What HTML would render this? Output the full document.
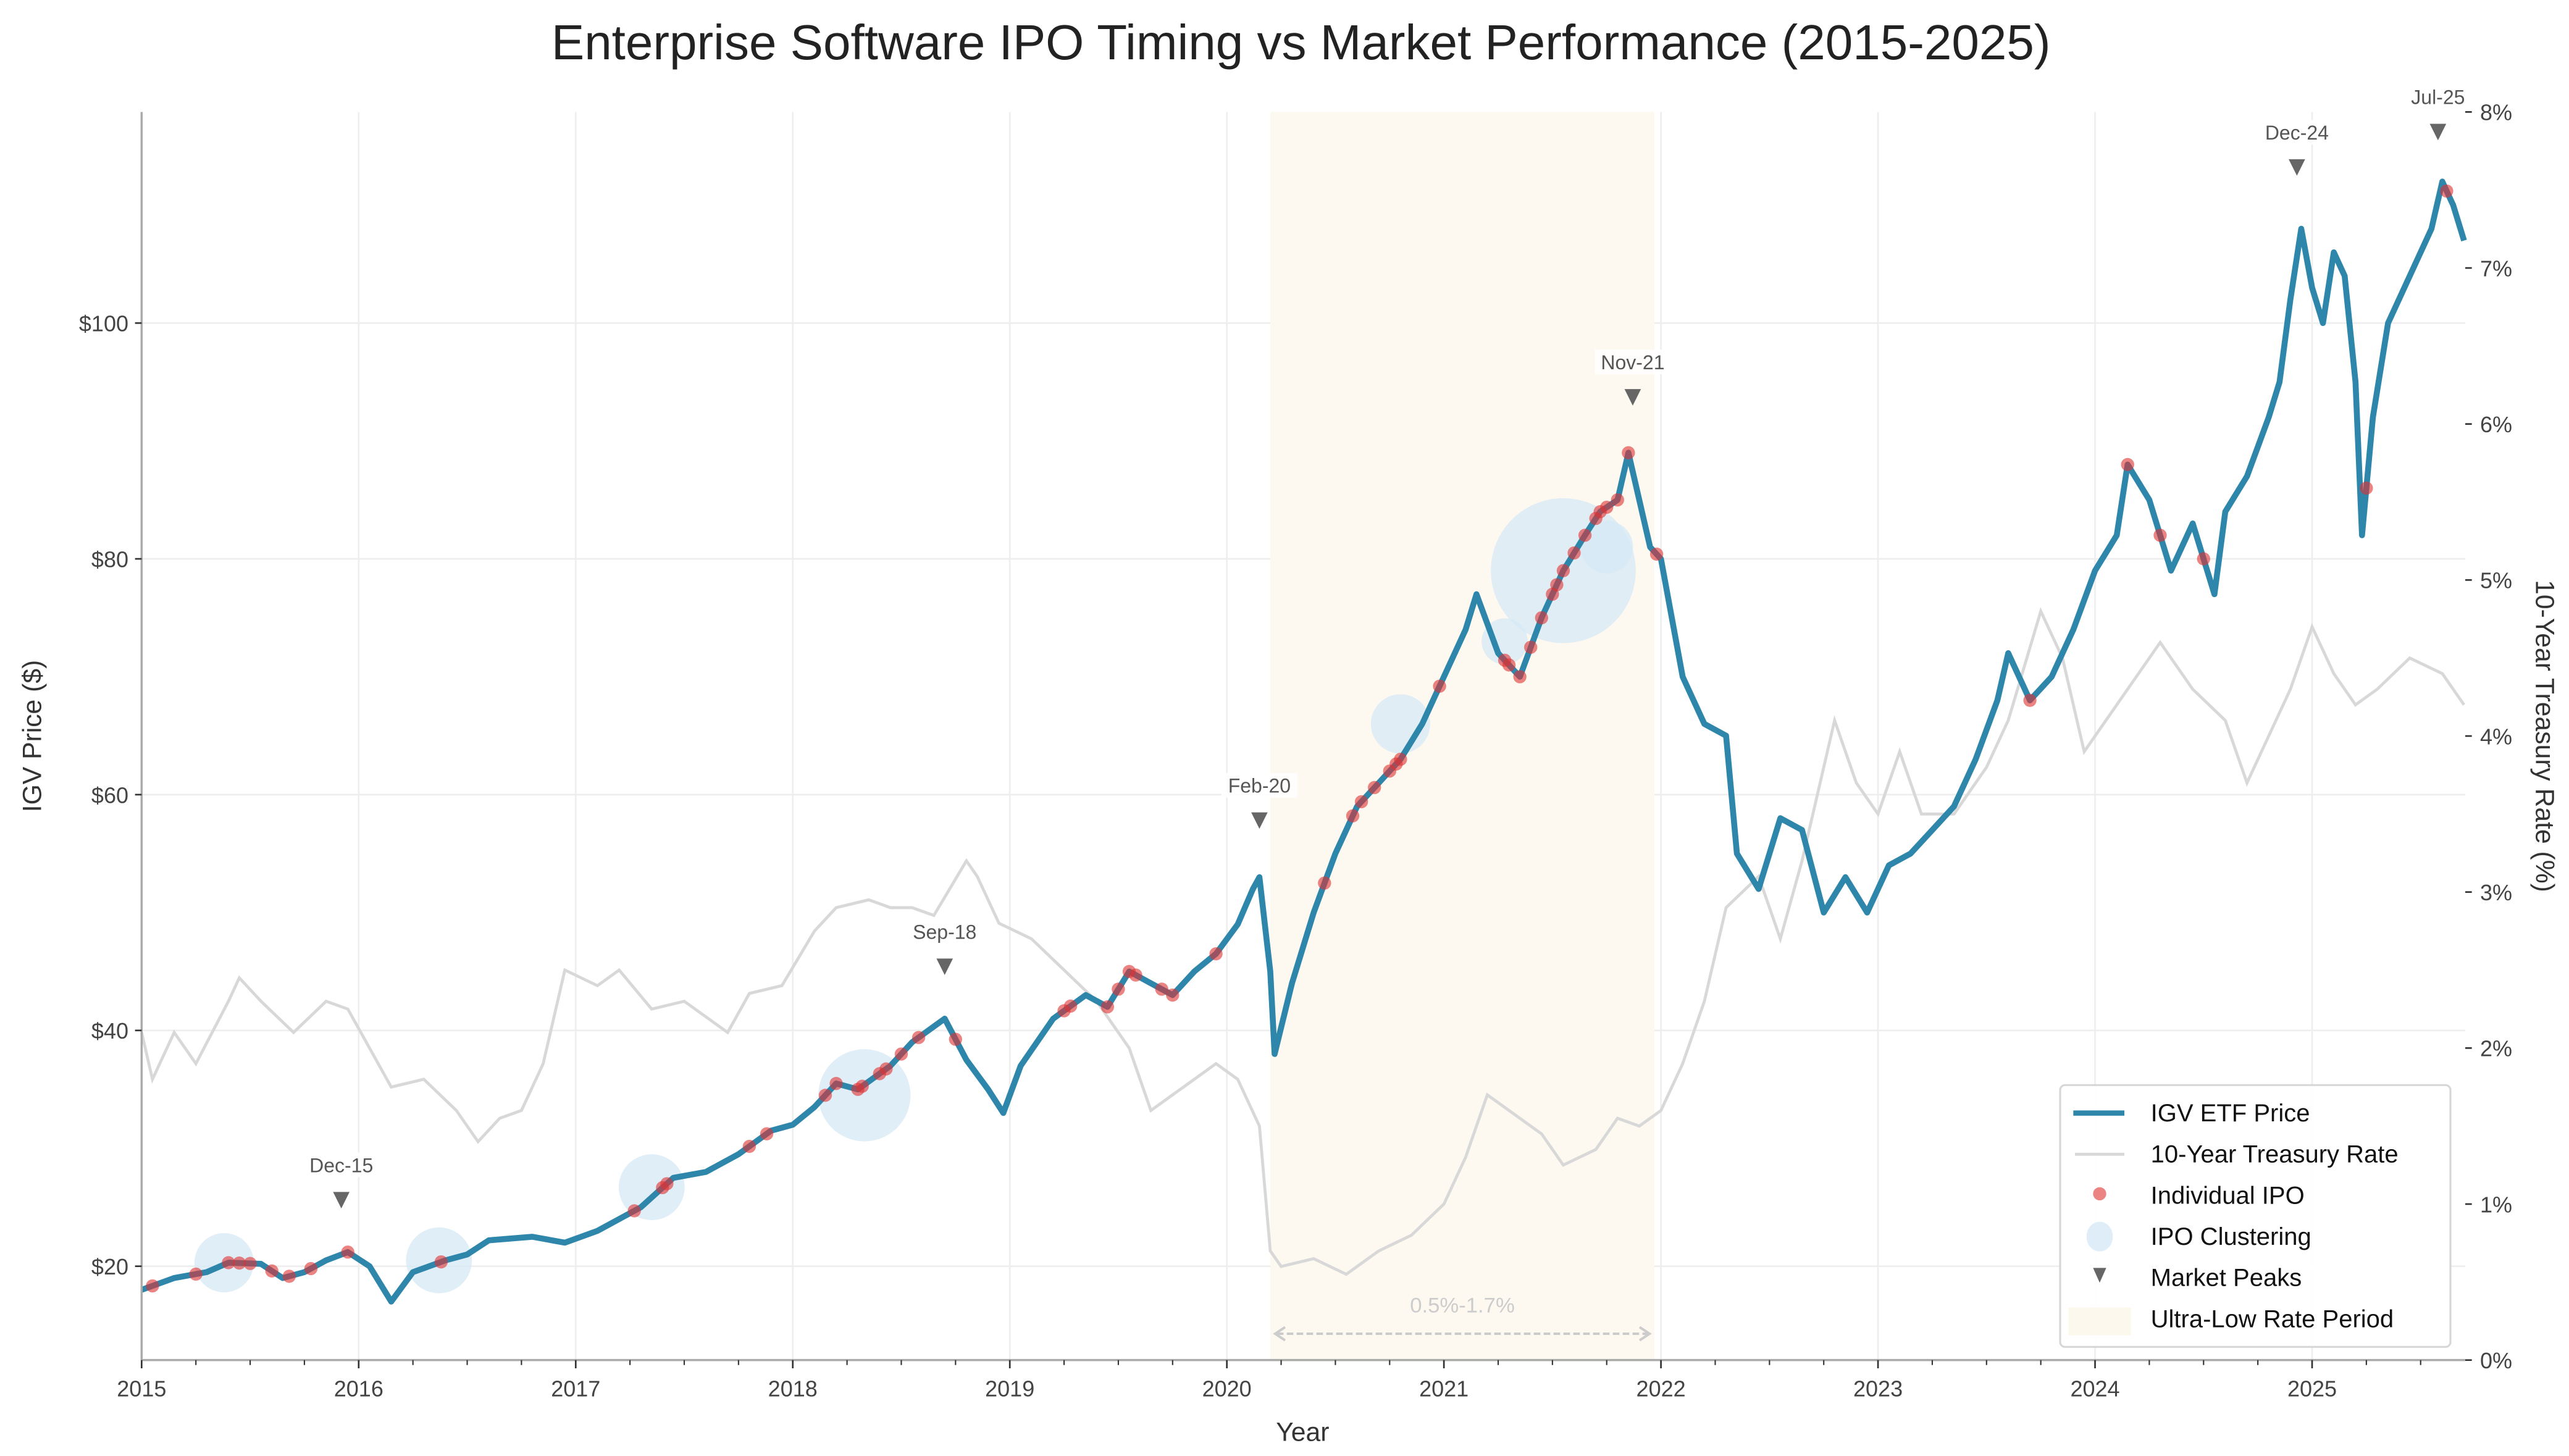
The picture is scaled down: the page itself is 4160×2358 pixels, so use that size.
<!DOCTYPE html>
<html><head><meta charset="utf-8"><style>
html,body{margin:0;padding:0;background:#fff;}
svg{display:block;font-family:"Liberation Sans",sans-serif;}
</style></head><body>
<svg id="chart" width="4160" height="2358" viewBox="0 0 1560 884.25" xmlns="http://www.w3.org/2000/svg">
<rect width="1560" height="884.25" fill="#fff"/>
<text x="790" y="36" text-anchor="middle" font-size="30" fill="#222">Enterprise Software IPO Timing vs Market Performance (2015-2025)</text>
<g id="grid"></g>
<g id="shade"></g>
<g id="treas"></g>
<g id="clusters"></g>
<g id="price"></g>
<g id="ipos"></g>
<g id="peaks"></g>
<g id="axes"></g>
<g id="legend"></g>
</svg>
<script>
const priceDates=[2015.0,2015.15,2015.3,2015.4,2015.55,2015.65,2015.75,2015.85,2015.95,2016.05,2016.15,2016.25,2016.4,2016.5,2016.6,2016.8,2016.95,2017.1,2017.3,2017.45,2017.6,2017.75,2017.9,2018.0,2018.1,2018.2,2018.3,2018.45,2018.55,2018.7,2018.8,2018.9,2018.97,2019.05,2019.2,2019.35,2019.45,2019.55,2019.65,2019.75,2019.85,2019.95,2020.05,2020.12,2020.15,2020.2,2020.22,2020.3,2020.4,2020.5,2020.6,2020.7,2020.8,2020.9,2021.0,2021.1,2021.15,2021.25,2021.35,2021.45,2021.55,2021.65,2021.72,2021.8,2021.85,2021.9,2021.95,2022.0,2022.1,2022.2,2022.3,2022.35,2022.45,2022.55,2022.65,2022.75,2022.85,2022.95,2023.05,2023.15,2023.25,2023.35,2023.45,2023.55,2023.6,2023.7,2023.8,2023.9,2024.0,2024.1,2024.15,2024.25,2024.35,2024.45,2024.55,2024.6,2024.7,2024.8,2024.85,2024.9,2024.95,2025.0,2025.05,2025.1,2025.15,2025.2,2025.23,2025.28,2025.35,2025.45,2025.55,2025.6,2025.65,2025.7];
const priceValues=[18,19,19.5,20.3,20.2,19,19.5,20.5,21.2,20,17,19.5,20.5,21,22.2,22.5,22,23,25,27.5,28,29.5,31.5,32,33.5,35.5,35,37,39,41,37.5,35,33,37,41,43,42,45,44,43,45,46.5,49,52,53,45,38,44,50,55,59,61,63,66,70,74,77,72,70,75,79,82,84,85,89,85,81,80,70,66,65,55,52,58,57,50,53,50,54,55,57,59,63,68,72,68,70,74,79,82,88,85,79,83,77,84,87,92,95,102,108,103,100,106,104,95,82,92,100,104,108,112,110,107];
const treasDates=[2015.0,2015.05,2015.15,2015.25,2015.4,2015.45,2015.55,2015.7,2015.85,2015.95,2016.05,2016.15,2016.3,2016.45,2016.55,2016.65,2016.75,2016.85,2016.95,2017.1,2017.2,2017.35,2017.5,2017.6,2017.7,2017.8,2017.95,2018.1,2018.2,2018.35,2018.45,2018.55,2018.65,2018.8,2018.85,2018.95,2019.1,2019.25,2019.4,2019.55,2019.65,2019.75,2019.85,2019.95,2020.05,2020.15,2020.2,2020.25,2020.4,2020.55,2020.7,2020.85,2021.0,2021.1,2021.2,2021.3,2021.45,2021.55,2021.7,2021.8,2021.9,2022.0,2022.1,2022.2,2022.3,2022.45,2022.55,2022.65,2022.8,2022.9,2023.0,2023.1,2023.2,2023.35,2023.5,2023.6,2023.75,2023.85,2023.95,2024.1,2024.3,2024.45,2024.6,2024.7,2024.8,2024.9,2025.0,2025.1,2025.2,2025.3,2025.45,2025.6,2025.7];
const treasValues=[2.1,1.8,2.1,1.9,2.3,2.45,2.3,2.1,2.3,2.25,2.0,1.75,1.8,1.6,1.4,1.55,1.6,1.9,2.5,2.4,2.5,2.25,2.3,2.2,2.1,2.35,2.4,2.75,2.9,2.95,2.9,2.9,2.85,3.2,3.1,2.8,2.7,2.5,2.3,2.0,1.6,1.7,1.8,1.9,1.8,1.5,0.7,0.6,0.65,0.55,0.7,0.8,1.0,1.3,1.7,1.6,1.45,1.25,1.35,1.55,1.5,1.6,1.9,2.3,2.9,3.1,2.7,3.2,4.1,3.7,3.5,3.9,3.5,3.5,3.8,4.1,4.8,4.5,3.9,4.2,4.6,4.3,4.1,3.7,4.0,4.3,4.7,4.4,4.2,4.3,4.5,4.4,4.2];
const ipoDates=[2015.05,2015.25,2015.4,2015.45,2015.5,2015.6,2015.68,2015.78,2015.95,2016.38,2017.27,2017.4,2017.42,2017.8,2017.88,2018.15,2018.2,2018.3,2018.32,2018.4,2018.43,2018.5,2018.58,2018.75,2019.25,2019.28,2019.45,2019.5,2019.55,2019.58,2019.7,2019.75,2019.95,2020.45,2020.58,2020.62,2020.68,2020.75,2020.78,2020.8,2020.98,2021.28,2021.3,2021.35,2021.4,2021.45,2021.5,2021.52,2021.55,2021.6,2021.65,2021.7,2021.72,2021.75,2021.8,2021.85,2021.98,2023.7,2024.15,2024.3,2024.5,2025.25,2025.62];
const clusterDates=[2015.38,2016.37,2017.35,2018.33,2020.8,2021.28,2021.55,2021.75];
const clusterPrices=[20.3,20.5,26.7,34.5,66,73,79,81];
const clusterSizes=[18,20,20,28,18,14,44,16];
const peakLabels=["Dec-15","Sep-18","Feb-20","Nov-21","Dec-24","Jul-25"];
const peakDates=[2015.92,2018.7,2020.15,2021.87,2024.93,2025.58];
const peakPrices=[25.6,45.4,57.8,93.7,113.2,116.2];
const yearTicks=[2015,2016,2017,2018,2019,2020,2021,2022,2023,2024,2025];
const priceTicks=[20,40,60,80,100];
const rateTicks=[0,1,2,3,4,5,6,7,8];
const lowRateStart=2020.2, lowRateEnd=2021.97;

const L=86,R=1497,T=68,B=826;
const X=d=>L+(d-2015)*131.8;
const Y=p=>769-(p-20)*7.16;
const Yr=r=>B-r*94.75;
const NS="http://www.w3.org/2000/svg";
function mk(tag,attrs,parent,txt){const e=document.createElementNS(NS,tag);for(const k in attrs)e.setAttribute(k,attrs[k]);if(txt!==undefined)e.textContent=txt;document.getElementById(parent).appendChild(e);return e;}
function interp(d){for(let i=0;i<priceDates.length-1;i++){if(d>=priceDates[i]&&d<=priceDates[i+1]){const t=(d-priceDates[i])/(priceDates[i+1]-priceDates[i]);return priceValues[i]+t*(priceValues[i+1]-priceValues[i]);}}return priceValues[priceValues.length-1];}

yearTicks.forEach(y=>{const g=mk('line',{x1:X(y),x2:X(y),y1:T,y2:B,stroke:'#eee','stroke-width':1},'grid');

});
priceTicks.forEach(p=>{const g=mk('line',{x1:L,x2:R,y1:Y(p),y2:Y(p),stroke:'#eee','stroke-width':1},'grid');

});
const sh=mk('rect',{x:X(lowRateStart),y:T,width:X(lowRateEnd)-X(lowRateStart),height:B-T,fill:'#fdf9f0'},'shade');


const at=mk('text',{x:(X(lowRateStart)+X(lowRateEnd))/2,y:797,'text-anchor':'middle','font-size':13,fill:'#ccc'},'shade','0.5%-1.7%');


const al=mk('line',{x1:X(lowRateStart)+4,x2:X(lowRateEnd)-4,y1:810,y2:810,stroke:'#ccc','stroke-width':1.5,'stroke-dasharray':'4 2'},'shade');


mk('path',{d:`M${X(lowRateStart)+9} 806 L${X(lowRateStart)+3} 810 L${X(lowRateStart)+9} 814 M${X(lowRateEnd)-9} 806 L${X(lowRateEnd)-3} 810 L${X(lowRateEnd)-9} 814`,stroke:'#ccc',fill:'none','stroke-width':1.5},'shade');
const tl=mk('polyline',{points:treasDates.map((d,i)=>X(d)+','+Yr(treasValues[i])).join(' '),fill:'none',stroke:'#d8d8d8','stroke-width':1.8},'treas');


clusterDates.forEach((d,i)=>{const c=mk('circle',{cx:X(d),cy:Y(clusterPrices[i]),r:clusterSizes[i],fill:'#d6e8f6',opacity:0.75},'clusters');

});
const pl=mk('polyline',{points:priceDates.map((d,i)=>X(d)+','+Y(priceValues[i])).join(' '),fill:'none',stroke:'#2e86ab','stroke-width':3.6,'stroke-linejoin':'round'},'price');


ipoDates.forEach(d=>{const c=mk('circle',{cx:X(d),cy:Y(interp(d)),r:4,fill:'#e03030',opacity:0.6},'ipos');

});
peakDates.forEach((d,i)=>{const x=X(d),y=Y(peakPrices[i]);
const m=mk('path',{d:`M${x-5} ${y-5} L${x+5} ${y-5} L${x} ${y+5} Z`,fill:'#666'},'peaks');


mk('rect',{x:x-23,y:y-29,width:46,height:15,fill:'#fff',opacity:0.85},'peaks');
const t=mk('text',{x:x,y:y-17,'text-anchor':'middle','font-size':12,fill:'#555'},'peaks',peakLabels[i]);

});
mk('line',{x1:L,x2:L,y1:T,y2:B,stroke:'#aaa','stroke-width':1.3},'axes');
mk('line',{x1:L,x2:R,y1:B,y2:B,stroke:'#aaa','stroke-width':1.3},'axes');
yearTicks.forEach(y=>{mk('line',{x1:X(y),x2:X(y),y1:B,y2:B+5,stroke:'#333','stroke-width':1},'axes');
for(let q=1;q<4;q++){const xq=X(y+q/4);if(xq<R)mk('line',{x1:xq,x2:xq,y1:B,y2:B+3,stroke:'#333','stroke-width':0.8},'axes');}
const t=mk('text',{x:X(y),y:B+22,'text-anchor':'middle','font-size':13.5,fill:'#444'},'axes',String(y));

});
priceTicks.forEach(p=>{mk('line',{x1:L-4,x2:L,y1:Y(p),y2:Y(p),stroke:'#333'},'axes');
const t=mk('text',{x:L-8,y:Y(p)+5,'text-anchor':'end','font-size':13.5,fill:'#444'},'axes','$'+p);

});
rateTicks.forEach(r=>{mk('line',{x1:R,x2:R+4,y1:Yr(r),y2:Yr(r),stroke:'#333'},'axes');
const t=mk('text',{x:R+9,y:Yr(r)+5,'font-size':13.5,fill:'#444'},'axes',r+'%');

});
const xt=mk('text',{x:791,y:875,'text-anchor':'middle','font-size':16,fill:'#333'},'axes','Year');


const yt=mk('text',{x:0,y:0,transform:'translate(25,447) rotate(-90)','text-anchor':'middle','font-size':16,fill:'#333'},'axes','IGV Price ($)');


const y2=mk('text',{x:0,y:0,transform:'translate(1540,447) rotate(90)','text-anchor':'middle','font-size':16,fill:'#333'},'axes','10-Year Treasury Rate (%)');


const lb=mk('rect',{x:1251,y:659,width:237,height:159,rx:3,fill:'#fff',stroke:'#d5d5d5','stroke-width':1.2,opacity:0.95},'legend');


const items=["IGV ETF Price","10-Year Treasury Rate","Individual IPO","IPO Clustering","Market Peaks","Ultra-Low Rate Period"];
items.forEach((s,i)=>{const y=676+i*25;
const t=mk('text',{x:1306,y:y+5,'font-size':15,fill:'#111'},'legend',s);

});
mk('line',{x1:1259,x2:1290,y1:676,y2:676,stroke:'#2e86ab','stroke-width':3.2},'legend');
mk('line',{x1:1260,x2:1290,y1:701,y2:701,stroke:'#d8d8d8','stroke-width':1.8},'legend');
mk('circle',{cx:1275,cy:725,r:4,fill:'#e03030',opacity:0.6},'legend');
mk('ellipse',{cx:1275,cy:751,rx:8,ry:9,fill:'#d6e8f6',opacity:0.8},'legend');
mk('path',{d:'M1271 770 L1279 770 L1275 779 Z',fill:'#666'},'legend');
mk('rect',{x:1256,y:794,width:38,height:17,fill:'#fdf8ee'},'legend');
</script>
</body></html>
